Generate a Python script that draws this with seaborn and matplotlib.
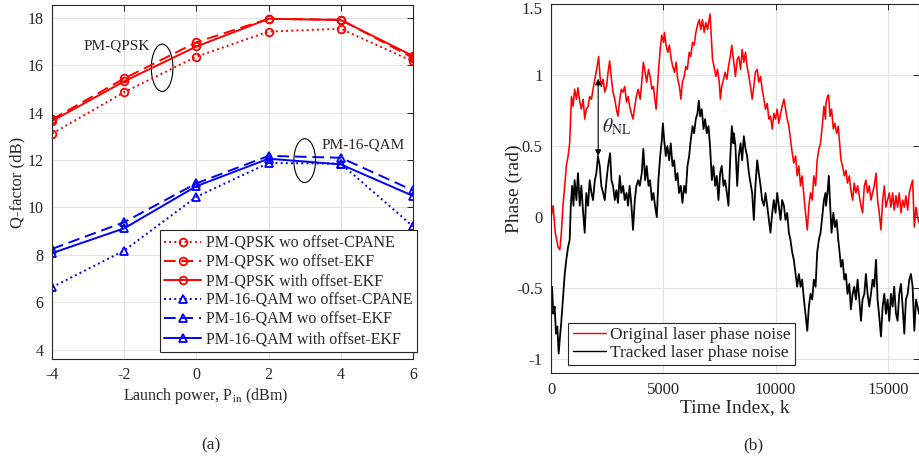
import matplotlib
matplotlib.use("Agg")
import matplotlib.pyplot as plt
import matplotlib.transforms as mtransforms
import seaborn as sns
from matplotlib.patches import Ellipse
from matplotlib.ticker import FuncFormatter

sns.set_theme(style="whitegrid")
plt.rcParams['font.family'] = ['Liberation Serif', 'DejaVu Serif']
plt.rcParams['mathtext.fontset'] = 'stix'
plt.rcParams['axes.unicode_minus'] = False

# (a) Q-factor vs launch power
launch_power = [-4, -2, 0, 2, 4, 6]
qpsk_wo_cpane = [13.12, 14.87, 16.37, 17.43, 17.55, 16.17]
qpsk_wo_ekf = [13.72, 15.45, 16.98, 17.97, 17.93, 16.32]
qpsk_with_ekf = [13.65, 15.33, 16.80, 17.97, 17.92, 16.40]
qam_wo_cpane = [6.63, 8.18, 10.45, 11.88, 11.85, 9.20]
qam_wo_ekf = [8.25, 9.38, 11.02, 12.18, 12.10, 10.72]
qam_with_ekf = [8.07, 9.12, 10.90, 12.06, 11.82, 10.49]

# (b) phase noise traces
k_orig = [0, 90, 190, 310, 390, 460, 530, 610, 680, 760, 830, 910, 980, 1050, 1130, 1200,
          1280, 1350, 1430, 1500, 1570, 1650, 1720, 1800, 1870, 1950, 2030, 2120, 2180, 2240,
          2320, 2390, 2470, 2540, 2610, 2690, 2760, 2840, 2910, 2980, 3060, 3130, 3210, 3280,
          3360, 3430, 3500, 3580, 3650, 3730, 3800, 3880, 3970, 4040, 4110, 4190, 4260, 4340,
          4410, 4490, 4560, 4620, 4680, 4740, 4800, 4860, 4930, 5010, 5050, 5120, 5200, 5270,
          5350, 5420, 5500, 5570, 5640, 5720, 5780, 5850, 5930, 6000, 6070, 6150, 6220, 6300,
          6370, 6450, 6520, 6600, 6670, 6740, 6820, 6890, 6970, 7040, 7080, 7130, 7190, 7260,
          7340, 7410, 7490, 7540, 7600, 7680, 7750, 7830, 7900, 7980, 8050, 8120, 8140, 8210,
          8290, 8360, 8440, 8510, 8585, 8660, 8730, 8810, 8880, 8955, 9030, 9100, 9180, 9250,
          9330, 9400, 9480, 9550, 9625, 9700, 9770, 9850, 9920, 9995, 10070, 10140, 10220,
          10290, 10370, 10440, 10515, 10590, 10660, 10740, 10810, 10890, 10960, 11035, 11110,
          11180, 11260, 11330, 11410, 11480, 11555, 11630, 11700, 11780, 11850, 11925, 12000,
          12075, 12150, 12220, 12240, 12310, 12360, 12420, 12490, 12570, 12640, 12715, 12790,
          12850, 12910, 12980, 13060, 13130, 13200, 13280, 13350, 13430, 13500, 13575, 13650,
          13725, 13800, 13870, 13950, 14020, 14095, 14170, 14245, 14320, 14390, 14470, 14540,
          14615, 14690, 14765, 14840, 14910, 14985, 15060, 15135, 15210, 15280, 15360, 15430,
          15505, 15580, 15655, 15730, 15800, 15880, 15950, 16025, 16100, 16175, 16250, 16320,
          16384]
phase_orig = [0.00, 0.08, -0.11, -0.21, -0.23, -0.11, 0.08, 0.22, 0.36, 0.43, 0.52, 0.85, 0.78,
              0.90, 0.83, 0.91, 0.81, 0.76, 0.83, 0.69, 0.76, 0.78, 0.85, 0.83, 0.90, 0.97, 1.04,
              1.13, 0.99, 0.92, 0.97, 0.88, 0.92, 1.02, 1.10, 0.97, 0.88, 0.83, 0.76, 0.71, 0.83,
              0.90, 0.88, 0.92, 0.81, 0.85, 0.78, 0.73, 0.69, 0.78, 0.85, 0.90, 0.83, 0.95, 1.09,
              1.02, 0.95, 1.04, 0.99, 0.90, 0.92, 0.83, 0.76, 0.92, 1.06, 1.18, 1.28, 1.23, 1.30,
              1.21, 1.16, 1.21, 1.11, 1.06, 1.02, 1.09, 0.97, 0.92, 0.83, 0.95, 0.99, 1.06, 1.04,
              1.16, 1.13, 1.23, 1.21, 1.30, 1.35, 1.39, 1.32, 1.39, 1.30, 1.37, 1.32, 1.39, 1.43,
              1.28, 1.11, 1.06, 0.99, 1.04, 0.95, 0.83, 0.92, 0.97, 1.02, 0.97, 1.06, 1.13, 1.21,
              1.11, 1.09, 0.99, 1.11, 1.13, 1.04, 1.18, 1.09, 1.16, 1.06, 0.99, 0.92, 0.83, 0.92,
              1.02, 1.04, 0.95, 0.99, 0.90, 0.83, 0.76, 0.80, 0.69, 0.71, 0.62, 0.73, 0.69, 0.76,
              0.66, 0.73, 0.78, 0.83, 0.76, 0.69, 0.64, 0.55, 0.45, 0.38, 0.43, 0.29, 0.36, 0.22,
              0.29, 0.15, 0.03, -0.09, 0.08, 0.17, 0.12, 0.29, 0.22, 0.40, 0.48, 0.52, 0.64, 0.78,
              0.69, 0.80, 0.85, 0.86, 0.71, 0.76, 0.62, 0.66, 0.59, 0.64, 0.52, 0.40, 0.36, 0.29,
              0.33, 0.24, 0.29, 0.19, 0.12, 0.24, 0.17, 0.22, 0.15, 0.08, 0.03, 0.22, 0.26, 0.17,
              0.22, 0.12, 0.17, 0.22, 0.31, 0.12, 0.03, -0.09, 0.12, 0.22, 0.07, 0.12, 0.17, 0.07,
              0.17, 0.05, 0.15, 0.07, 0.17, 0.03, 0.12, 0.07, 0.15, 0.05, 0.17, 0.22, 0.26, -0.07,
              0.07, 0.00, -0.04]

k_track = [0, 45, 100, 160, 220, 280, 340, 400, 460, 530, 610, 680, 760, 830, 880, 940, 1000,
           1050, 1130, 1200, 1280, 1350, 1430, 1500, 1570, 1650, 1720, 1800, 1870, 1950, 2020,
           2090, 2170, 2240, 2320, 2390, 2470, 2540, 2630, 2690, 2760, 2840, 2910, 2980, 3060,
           3130, 3210, 3280, 3360, 3430, 3500, 3580, 3650, 3730, 3800, 3880, 3950, 4040, 4110,
           4190, 4260, 4340, 4410, 4490, 4560, 4630, 4710, 4780, 4860, 4930, 4980, 5040, 5110,
           5180, 5260, 5330, 5410, 5480, 5555, 5630, 5700, 5780, 5850, 5930, 6000, 6075, 6150,
           6220, 6300, 6370, 6445, 6520, 6580, 6640, 6710, 6790, 6860, 6935, 7010, 7080, 7160,
           7230, 7310, 7380, 7455, 7530, 7600, 7680, 7750, 7830, 7900, 7975, 8050, 8120, 8140,
           8210, 8290, 8360, 8440, 8510, 8585, 8660, 8730, 8810, 8880, 8955, 9030, 9100, 9180,
           9250, 9330, 9400, 9480, 9550, 9625, 9700, 9770, 9850, 9920, 9995, 10070, 10140,
           10220, 10290, 10370, 10440, 10515, 10590, 10660, 10740, 10810, 10890, 10960, 11035,
           11110, 11180, 11260, 11330, 11410, 11480, 11555, 11630, 11700, 11780, 11850, 11925,
           12000, 12075, 12150, 12220, 12240, 12310, 12370, 12430, 12490, 12570, 12640, 12715,
           12790, 12850, 12910, 12980, 13060, 13130, 13200, 13280, 13350, 13430, 13500, 13575,
           13650, 13725, 13800, 13870, 13950, 14020, 14095, 14170, 14245, 14320, 14390, 14470,
           14540, 14615, 14690, 14765, 14840, 14910, 14985, 15060, 15135, 15210, 15280, 15360,
           15430, 15505, 15580, 15655, 15730, 15800, 15880, 15950, 16025, 16100, 16175, 16250,
           16320, 16384]
phase_track = [-0.54, -0.49, -0.68, -0.63, -0.82, -0.77, -0.96, -0.84, -0.73, -0.58, -0.40,
               -0.30, -0.21, -0.16, 0.08, 0.22, 0.08, 0.26, 0.12, 0.31, 0.08, 0.22, 0.03, -0.11,
               0.17, 0.08, 0.26, 0.17, 0.12, 0.26, 0.31, 0.43, 0.36, 0.22, 0.17, 0.12, 0.26, 0.36,
               0.45, 0.26, 0.22, 0.12, 0.19, 0.10, 0.29, 0.17, 0.22, 0.12, 0.17, 0.08, 0.22, 0.08,
               -0.09, 0.12, 0.22, 0.26, 0.22, 0.31, 0.48, 0.26, 0.36, 0.22, 0.26, 0.12, 0.17, 0.08,
               0.00, 0.26, 0.43, 0.54, 0.66, 0.54, 0.43, 0.50, 0.40, 0.52, 0.36, 0.40, 0.26, 0.31,
               0.17, 0.22, 0.10, 0.22, 0.17, 0.36, 0.43, 0.54, 0.64, 0.59, 0.69, 0.73, 0.82, 0.71,
               0.76, 0.62, 0.69, 0.59, 0.64, 0.50, 0.26, 0.36, 0.22, 0.29, 0.12, 0.31, 0.36, 0.22,
               0.26, 0.17, 0.08, 0.40, 0.64, 0.52, 0.59, 0.50, 0.22, 0.43, 0.52, 0.40, 0.57, 0.48,
               0.43, 0.31, 0.24, 0.17, -0.02, 0.22, 0.40, 0.31, 0.22, 0.12, 0.08, 0.17, 0.08,
               -0.02, -0.11, 0.03, 0.12, 0.03, 0.17, 0.08, -0.02, 0.12, 0.08, -0.02, 0.03, -0.11,
               -0.16, -0.25, -0.30, -0.40, -0.49, -0.40, -0.49, -0.44, -0.58, -0.68, -0.80, -0.63,
               -0.54, -0.58, -0.44, -0.49, -0.25, -0.16, -0.11, 0.00, 0.12, 0.17, 0.08, 0.17, 0.29,
               0.08, -0.11, 0.03, -0.07, -0.02, -0.16, -0.25, -0.35, -0.30, -0.44, -0.40, -0.54,
               -0.47, -0.65, -0.54, -0.49, -0.58, -0.44, -0.58, -0.73, -0.58, -0.54, -0.40, -0.54,
               -0.63, -0.54, -0.44, -0.49, -0.30, -0.58, -0.70, -0.84, -0.63, -0.54, -0.68, -0.58,
               -0.73, -0.54, -0.63, -0.49, -0.68, -0.73, -0.54, -0.47, -0.63, -0.82, -0.58, -0.54,
               -0.44, -0.40, -0.49, -0.80, -0.58, -0.63, -0.68]

spine_color = '#262626'
grid_color = '#e3e3e3'

fig = plt.figure(figsize=(9.19, 4.61), dpi=100)
ax1 = fig.add_axes([0.0566, 0.2213, 0.3928, 0.7677])
ax2 = fig.add_axes([0.5996, 0.1900, 0.4004, 0.8013])

series = [
    (qpsk_wo_cpane, 'red', ':', 'o', 'PM-QPSK wo offset-CPANE'),
    (qpsk_wo_ekf, 'red', (0, (6, 3)), 'o', 'PM-QPSK wo offset-EKF'),
    (qpsk_with_ekf, 'red', '-', 'o', 'PM-QPSK with offset-EKF'),
    (qam_wo_cpane, 'blue', ':', '^', 'PM-16-QAM wo offset-CPANE'),
    (qam_wo_ekf, 'blue', (0, (6, 3)), '^', 'PM-16-QAM wo offset-EKF'),
    (qam_with_ekf, 'blue', '-', '^', 'PM-16-QAM with offset-EKF'),
]
for vals, col, ls, mk, lab in series:
    sns.lineplot(x=launch_power, y=vals, ax=ax1, color=col, linestyle=ls, marker=mk,
                 markersize=5.5, markerfacecolor='none', markeredgecolor=col,
                 markeredgewidth=1.3, linewidth=1.4, label=lab, estimator=None)

ax1.set_xlim(-4, 6)
ax1.set_ylim(3.6, 18.55)
ax1.set_xticks(launch_power)
ax1.set_yticks([4, 6, 8, 10, 12, 14, 16, 18])
ax1.set_xlabel('Launch power, P$_{\\mathrm{in}}$ (dBm)', fontsize=11.5)
ax1.set_ylabel('Q-factor (dB)', fontsize=12)
ax1.xaxis.set_label_coords(0.425, -0.075)
ax1.yaxis.set_label_coords(-0.075, 0.5)
ax1.add_patch(Ellipse((-0.95, 15.9), 0.6, 2.0, fill=False, edgecolor='black', linewidth=0.8))
ax1.add_patch(Ellipse((3.0, 11.98), 0.6, 1.85, fill=False, edgecolor='black', linewidth=0.8))
ax1.text(-1.3, 16.84, 'PM-QPSK', fontsize=11, ha='right', va='center')
ax1.text(3.47, 12.62, 'PM-16-QAM', fontsize=11, ha='left', va='center')
leg1 = ax1.legend(loc='lower right', bbox_to_anchor=(1.012, 0.02), fontsize=11.5,
                  handlelength=2.3, handletextpad=0.3, labelspacing=0.2, borderpad=0.3,
                  borderaxespad=0, fancybox=False, framealpha=1, edgecolor=spine_color)
leg1.get_frame().set_linewidth(0.8)

sns.lineplot(x=k_orig, y=phase_orig, ax=ax2, color='red', linewidth=1.15,
             estimator=None, sort=False, label='Original laser phase noise')
sns.lineplot(x=k_track, y=phase_track, ax=ax2, color='black', linewidth=1.3,
             estimator=None, sort=False, label='Tracked laser phase noise')
ax2.set_xlim(0, 16384)
ax2.set_ylim(-1.1, 1.5)
ax2.set_xticks([0, 5000, 10000, 15000])
ax2.set_yticks([-1, -0.5, 0, 0.5, 1, 1.5])
ax2.yaxis.set_major_formatter(FuncFormatter(lambda v, p: '%g' % v))
ax2.set_xlabel('Time Index, k', fontsize=14)
ax2.set_ylabel('Phase (rad)', fontsize=14)
ax2.xaxis.set_label_coords(0.50, -0.07)
ax2.yaxis.set_label_coords(-0.077, 0.5)
ax2.annotate('', xy=(2100, 0.975), xytext=(2100, 0.43),
             arrowprops=dict(arrowstyle='<|-|>', color='black', lw=0.8,
                             mutation_scale=9, shrinkA=0, shrinkB=0))
ax2.text(2250, 0.64, '$\\theta_{\\mathrm{NL}}$', fontsize=14, ha='left', va='center')
leg2 = ax2.legend(loc='lower left', bbox_to_anchor=(0.047, 0.022), fontsize=12.5,
                  handlelength=1.9, handletextpad=0.25, labelspacing=0.1, borderpad=0.25,
                  borderaxespad=0, fancybox=False, framealpha=1, edgecolor=spine_color)
leg2.get_frame().set_linewidth(0.8)
for line in leg2.get_lines():
    line.set_linewidth(1.0)

for ax, fs in ((ax1, 11.5), (ax2, 12)):
    ax.grid(True, color=grid_color, linewidth=0.8)
    for s in ax.spines.values():
        s.set_color(spine_color)
        s.set_linewidth(0.8)
    ax.tick_params(axis='both', which='both', direction='in', top=True, right=True,
                   length=4, width=0.7, color=spine_color, labelsize=fs,
                   labelcolor='#262626', pad=6)

# the top tick label sits at the figure edge; nudge it down a little as in the original
top_label = ax2.get_yticklabels()[-1]
top_label.set_transform(top_label.get_transform() +
                        mtransforms.ScaledTranslation(0, -3 / 72, fig.dpi_scale_trans))

fig.text(210.7 / 919, 1 - 445 / 461, '(a)', fontsize=12.5, ha='center', va='center')
fig.text(753 / 919, 1 - 445 / 461, '(b)', fontsize=12.5, ha='center', va='center')

fig.savefig('out.png', dpi=100)
